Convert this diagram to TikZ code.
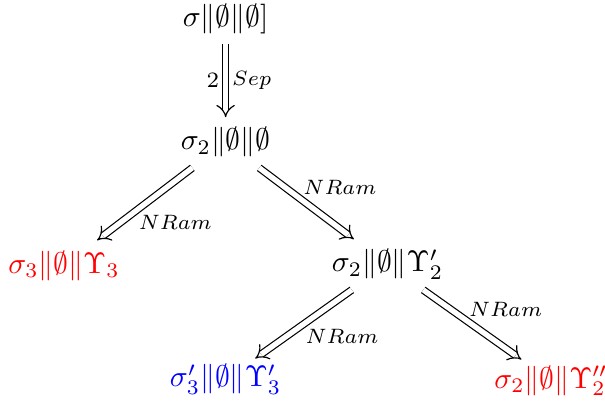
\documentclass[tikz,border=0pt]{standalone}
\usetikzlibrary{arrows.meta}

\begin{document}
\begin{tikzpicture}[
  state/.style={anchor=base, inner sep=3.33pt},
  imp/.style={double, double distance=1.8pt, line width=0.4pt, -{Implies}},
  lab/.style={font=\fontsize{7.4}{9}\selectfont, inner sep=1pt}]
  \useasboundingbox (0,0) rectangle (7.160,-4.805);

  \node[state] (s0) at (2.670,-0.308) {$\sigma\|\emptyset\|\emptyset]$};
  \node[state] (s1) at (2.670,-1.775) {$\sigma_2\|\emptyset\|\emptyset$};
  \node[state, text=red] (s3) at (0.757,-3.231) {$\sigma_3\|\emptyset\|\Upsilon_3$};
  \node[state] (s2) at (4.586,-3.219) {$\sigma_2\|\emptyset\|\Upsilon'_2$};
  \node[state, text=blue] (s3b) at (2.670,-4.580) {$\sigma'_3\|\emptyset\|\Upsilon'_3$};
  \node[state, text=red] (s2b) at (6.521,-4.592) {$\sigma_2\|\emptyset\|\Upsilon''_2$};

  \draw[imp] (s0) -- node[lab, left, inner sep=2pt] {2} node[lab, right, inner sep=2pt] {$Sep$} (s1);
  \draw[imp] (s1) -- node[lab, pos=0.6, anchor=north west] {$NRam$} (s3);
  \draw[imp] (s1) -- node[lab, pos=0.43, anchor=south west] {$NRam$} (s2);
  \draw[imp, shorten >=-2.5pt] (s2) -- node[lab, pos=0.55, anchor=north west] {$NRam$} (s3b);
  \draw[imp, shorten >=-2.5pt] (s2) -- node[lab, pos=0.46, anchor=south west] {$NRam$} (s2b);
\end{tikzpicture}
\end{document}
